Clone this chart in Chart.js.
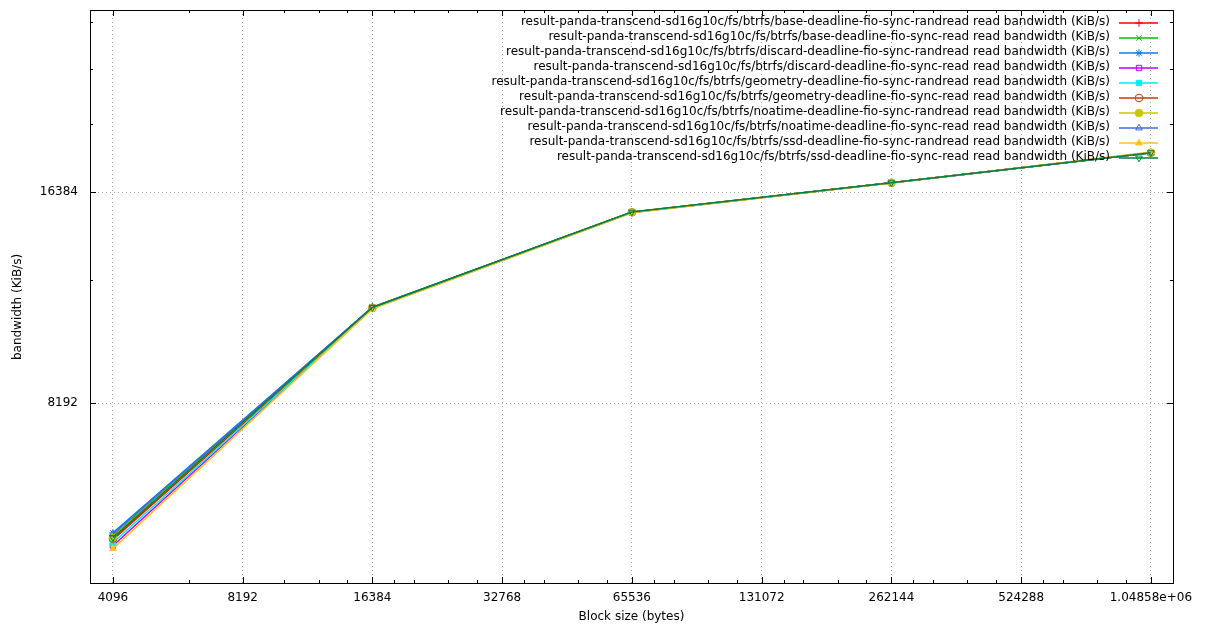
<!DOCTYPE html>
<html>
<head>
<meta charset="utf-8">
<script src="https://cdn.jsdelivr.net/npm/chart.js@4.4.1/dist/chart.umd.min.js"></script>
<style>
html,body{margin:0;padding:0;background:#fff;}
canvas{display:block;}
</style>
</head>
<body>
<canvas id="c" width="1205" height="625"></canvas>
<script>
// ---- data ----
const blockSizes = [4096, 16384, 65536, 262144, 1048576];

const baseRandread     = [5230, 11200, 15340, 16900, 18650];
const baseRead         = [5300, 11230, 15350, 16910, 18660];
const discardRandread  = [5350, 11220, 15340, 16900, 18650];
const discardRead      = [5130, 11190, 15330, 16900, 18650];
const geometryRandread = [5180, 11180, 15330, 16890, 18640];
const geometryRead     = [5250, 11210, 15340, 16900, 18660];
const noatimeRandread  = [5280, 11200, 15350, 16910, 18660];
const noatimeRead      = [5330, 11230, 15340, 16900, 18650];
const ssdRandread      = [5080, 11170, 15320, 16890, 18700];
const ssdRead          = [5270, 11220, 15350, 16910, 18660];

const seriesNames = [
  'result-panda-transcend-sd16g10c/fs/btrfs/base-deadline-fio-sync-randread read bandwidth (KiB/s)',
  'result-panda-transcend-sd16g10c/fs/btrfs/base-deadline-fio-sync-read read bandwidth (KiB/s)',
  'result-panda-transcend-sd16g10c/fs/btrfs/discard-deadline-fio-sync-randread read bandwidth (KiB/s)',
  'result-panda-transcend-sd16g10c/fs/btrfs/discard-deadline-fio-sync-read read bandwidth (KiB/s)',
  'result-panda-transcend-sd16g10c/fs/btrfs/geometry-deadline-fio-sync-randread read bandwidth (KiB/s)',
  'result-panda-transcend-sd16g10c/fs/btrfs/geometry-deadline-fio-sync-read read bandwidth (KiB/s)',
  'result-panda-transcend-sd16g10c/fs/btrfs/noatime-deadline-fio-sync-randread read bandwidth (KiB/s)',
  'result-panda-transcend-sd16g10c/fs/btrfs/noatime-deadline-fio-sync-read read bandwidth (KiB/s)',
  'result-panda-transcend-sd16g10c/fs/btrfs/ssd-deadline-fio-sync-randread read bandwidth (KiB/s)',
  'result-panda-transcend-sd16g10c/fs/btrfs/ssd-deadline-fio-sync-read read bandwidth (KiB/s)'
];
const seriesValues = [baseRandread, baseRead, discardRandread, discardRead, geometryRandread,
  geometryRead, noatimeRandread, noatimeRead, ssdRandread, ssdRead];

const xTickValues = [4096, 8192, 16384, 32768, 65536, 131072, 262144, 524288, 1048576];
const xTickLabels = ['4096', '8192', '16384', '32768', '65536', '131072', '262144', '524288', '1.04858e+06'];
const yTickValues = [8192, 16384];
const yTickLabels = ['8192', '16384'];
const xMinorTicks = [6144, 10240, 12288, 14336,
  18432, 20480, 24576, 28672,
  36864, 40960, 49152, 57344,
  73728, 81920, 98304, 114688,
  147456, 163840, 196608, 229376,
  294912, 327680, 393216, 458752,
  589824, 655360, 786432, 917504,
  1179648];
const yMinorTicks = [12288, 20480, 24576, 28672];

const xTitle = 'Block size (bytes)';
const yTitle = 'bandwidth (KiB/s)';

// ---- styles ----
const colors = ['#ff0000', '#00c000', '#0080ff', '#c000ff', '#00eeee',
  '#c04000', '#c8c800', '#4169e1', '#ffc020', '#008040'];
const pStyles = [
  {s:'cross', f:false, r:0}, {s:'crossRot', f:false, r:0}, {s:'star', f:false, r:0},
  {s:'rect', f:false, r:0}, {s:'rect', f:true, r:0}, {s:'circle', f:false, r:0},
  {s:'circle', f:true, r:0}, {s:'triangle', f:false, r:0}, {s:'triangle', f:true, r:0},
  {s:'triangle', f:false, r:180}
];
const FONT = '"DejaVu Sans", sans-serif';

const datasets = seriesValues.map((vals, i) => ({
  label: seriesNames[i],
  data: blockSizes.map((x, j) => ({x: x, y: vals[j]})),
  order: seriesValues.length - i,
  borderColor: colors[i],
  backgroundColor: colors[i],
  borderWidth: 1.5,
  pointStyle: pStyles[i].s,
  pointRotation: pStyles[i].r,
  pointRadius: 3.8,
  pointHoverRadius: 3.8,
  pointBorderWidth: 1,
  pointBorderColor: colors[i],
  pointBackgroundColor: pStyles[i].f ? colors[i] : 'rgba(255,255,255,0)',
  tension: 0,
  fill: false
}));

const gnuplotDecor = {
  id: 'gnuplotDecor',
  afterDatasetsDraw(chart) {
    const ctx = chart.ctx;
    const a = chart.chartArea;
    const xs = chart.scales.x, ys = chart.scales.y;
    ctx.save();
    ctx.setLineDash([]);
    // frame
    ctx.strokeStyle = '#000';
    ctx.lineWidth = 1;
    ctx.strokeRect(Math.round(a.left) + 0.5, Math.round(a.top) + 0.5,
      Math.round(a.right - a.left), Math.round(a.bottom - a.top));
    // ticks
    ctx.beginPath();
    const tickX = (v, len) => {
      const px = Math.round(xs.getPixelForValue(v)) + 0.5;
      if (px < a.left || px > a.right) return;
      ctx.moveTo(px, a.bottom); ctx.lineTo(px, a.bottom - len);
      ctx.moveTo(px, a.top); ctx.lineTo(px, a.top + len);
    };
    const tickY = (v, len) => {
      const py = Math.round(ys.getPixelForValue(v)) + 0.5;
      if (py < a.top || py > a.bottom) return;
      ctx.moveTo(a.left, py); ctx.lineTo(a.left + len, py);
      ctx.moveTo(a.right, py); ctx.lineTo(a.right - len, py);
    };
    xTickValues.forEach(v => tickX(v, 6));
    xMinorTicks.forEach(v => tickX(v, 3));
    yTickValues.forEach(v => tickY(v, 6));
    yMinorTicks.forEach(v => tickY(v, 3));
    ctx.stroke();

    // legend (gnuplot style: right aligned text, sample to the right)
    ctx.font = '12px ' + FONT;
    ctx.textBaseline = 'middle';
    chart.data.datasets.forEach((ds, i) => {
      const y = 22 + i * 15;
      ctx.textAlign = 'right';
      ctx.fillStyle = '#000';
      ctx.fillText(ds.label, 1110, y);
      ctx.setLineDash([]);
      ctx.strokeStyle = colors[i];
      ctx.lineWidth = 1.5;
      ctx.beginPath();
      ctx.moveTo(1119, y + 1); ctx.lineTo(1158, y + 1);
      ctx.stroke();
      ctx.fillStyle = pStyles[i].f ? colors[i] : 'rgba(255,255,255,0)';
      ctx.strokeStyle = colors[i];
      ctx.lineWidth = 1;
      Chart.helpers.drawPoint(ctx, {pointStyle: pStyles[i].s, radius: 3.8,
        rotation: pStyles[i].r, borderWidth: 1}, 1139, y + 1);
    });

    // axis titles
    ctx.fillStyle = '#000';
    ctx.textAlign = 'center';
    ctx.textBaseline = 'middle';
    ctx.fillText(xTitle, (a.left + a.right) / 2, 617);
    ctx.translate(18, 307);
    ctx.rotate(-Math.PI / 2);
    ctx.fillText(yTitle, 0, 0);
    ctx.restore();
  }
};

new Chart(document.getElementById('c'), {
  type: 'line',
  data: {datasets: datasets},
  options: {
    responsive: false,
    animation: false,
    events: [],
    layout: {padding: {left: 0, right: 32, top: 10, bottom: 0}},
    plugins: {legend: {display: false}, tooltip: {enabled: false}, title: {display: false}},
    scales: {
      x: {
        type: 'logarithmic',
        min: 3624, max: 1180000,
        afterBuildTicks: s => { s.ticks = xTickValues.map(v => ({value: v})); },
        afterFit: s => { s.height = 42; s.paddingLeft = 0; s.paddingRight = 0; },
        ticks: {
          autoSkip: false, maxRotation: 0, padding: 8,
          color: '#000', font: {family: FONT, size: 12},
          callback: (v, i) => xTickLabels[i]
        },
        grid: {color: '#a8a8a8', lineWidth: 1, drawTicks: false},
        border: {display: false, dash: [1, 3]}
      },
      y: {
        type: 'logarithmic',
        min: 4538, max: 29820,
        afterBuildTicks: s => { s.ticks = yTickValues.map(v => ({value: v})); },
        afterFit: s => { s.width = 90; s.paddingTop = 0; s.paddingBottom = 0; },
        ticks: {
          autoSkip: false, padding: 12,
          color: '#000', font: {family: FONT, size: 12},
          callback: (v, i) => yTickLabels[i]
        },
        grid: {color: '#a8a8a8', lineWidth: 1, drawTicks: false},
        border: {display: false, dash: [1, 3]}
      }
    }
  },
  plugins: [gnuplotDecor]
});
</script>
</body>
</html>
